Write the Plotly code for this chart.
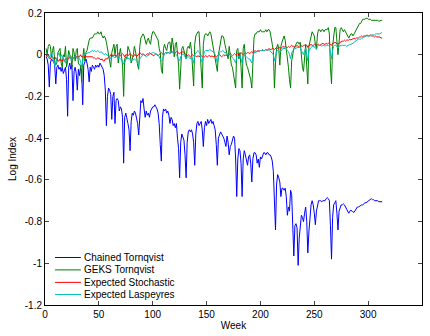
import plotly.graph_objects as go

series_names = ["Chained Tornqvist", "GEKS Tornqvist", "Expected Stochastic", "Expected Laspeyres"]
series_colors = ["#0000ff", "#008000", "#ff0000", "#00bfbf"]

chained_tornqvist = [
    -0.01, -0.02, -0.05, -0.155, -0.04, -0.02, -0.03, -0.03, -0.05, -0.14,
    -0.06, -0.05, -0.07, -0.06, -0.08, -0.06, -0.09, -0.07, -0.06, -0.12,
    -0.295, -0.06, -0.04, -0.07, -0.05, -0.22, -0.08, -0.06, -0.09, -0.17,
    -0.07, -0.10, -0.06, -0.08, -0.24, -0.05, -0.03, -0.02, -0.04, -0.07,
    -0.13, -0.06, -0.08, -0.05, -0.06, -0.07, -0.05, -0.06, -0.05, -0.06,
    -0.04, -0.05, -0.06, -0.07, -0.10, -0.17, -0.34, -0.20, -0.16, -0.17,
    -0.19, -0.31, -0.20, -0.18, -0.33, -0.22, -0.21, -0.22, -0.27, -0.25,
    -0.26, -0.30, -0.52, -0.30, -0.28, -0.30, -0.33, -0.36, -0.46, -0.32,
    -0.28, -0.29, -0.27, -0.28, -0.30, -0.33, -0.385, -0.26, -0.22, -0.23,
    -0.21, -0.26, -0.30, -0.27, -0.29, -0.28, -0.30, -0.27, -0.26, -0.25,
    -0.25, -0.24, -0.25, -0.26, -0.28, -0.33, -0.43, -0.51, -0.30, -0.26,
    -0.27, -0.26, -0.28, -0.27, -0.29, -0.33, -0.30, -0.31, -0.34, -0.33,
    -0.35, -0.33, -0.40, -0.45, -0.59, -0.42, -0.38, -0.40, -0.41, -0.48,
    -0.59, -0.42, -0.37, -0.36, -0.37, -0.36, -0.38, -0.42, -0.53, -0.38,
    -0.33, -0.32, -0.34, -0.33, -0.32, -0.36, -0.44, -0.35, -0.32, -0.34,
    -0.31, -0.33, -0.32, -0.31, -0.33, -0.32, -0.34, -0.36, -0.43, -0.53,
    -0.40, -0.38, -0.37, -0.38, -0.39, -0.40, -0.42, -0.44, -0.39, -0.42,
    -0.48, -0.44, -0.43, -0.41, -0.39, -0.40, -0.50, -0.68, -0.50, -0.45,
    -0.46, -0.52, -0.68, -0.50, -0.46, -0.48, -0.51, -0.53, -0.49, -0.48,
    -0.52, -0.61, -0.50, -0.47, -0.47, -0.48, -0.52, -0.50, -0.54, -0.49,
    -0.50, -0.48, -0.47, -0.47, -0.48, -0.47, -0.47, -0.48, -0.48, -0.49,
    -0.51, -0.56, -0.70, -0.84, -0.62, -0.575, -0.59, -0.61, -0.68, -0.64,
    -0.64, -0.65, -0.64, -0.68, -0.77, -0.73, -0.75, -0.65, -0.67, -0.80,
    -0.965, -0.82, -0.81, -0.83, -1.01, -0.88, -0.80, -0.77, -0.78, -0.80,
    -0.76, -0.73, -0.80, -0.95, -0.85, -0.77, -0.72, -0.70, -0.72, -0.76,
    -0.815, -0.75, -0.72, -0.70, -0.70, -0.70, -0.705, -0.70, -0.70, -0.70,
    -0.69, -0.685, -0.69, -0.70, -0.82, -0.98, -0.78, -0.72, -0.71, -0.70,
    -0.76, -0.84, -0.75, -0.73, -0.72, -0.72, -0.715, -0.72, -0.73, -0.745,
    -0.755, -0.76, -0.75, -0.745, -0.75, -0.755, -0.755, -0.745, -0.735, -0.73,
    -0.73, -0.725, -0.725, -0.72, -0.72, -0.715, -0.71, -0.71, -0.705, -0.70,
    -0.695, -0.69, -0.69, -0.695, -0.695, -0.70, -0.70, -0.70, -0.70, -0.705,
    -0.705, -0.705, -0.705,
]

geks_tornqvist = [
    0.03, 0.00, 0.04, 0.05, 0.04, -0.01, 0.02, 0.04, -0.03, -0.05,
    -0.04, 0.01, 0.02, 0.03, -0.04, -0.06, 0.00, -0.01, 0.04, -0.06,
    -0.03, 0.02, 0.00, -0.01, -0.06, 0.03, 0.01, -0.03, 0.02, 0.03,
    -0.04, -0.05, -0.05, -0.13, -0.02, 0.03, -0.03, 0.01, 0.02, 0.05,
    0.07, 0.08, 0.08, 0.08, 0.09, 0.10, 0.10, 0.10, 0.11, 0.10,
    0.10, 0.11, 0.09, 0.08, 0.09, 0.08, 0.06, 0.03, 0.00, -0.03,
    -0.06, 0.01, 0.04, 0.05, 0.00, 0.04, 0.05, -0.04, 0.00, 0.03,
    -0.01, -0.05, -0.20, -0.02, -0.01, -0.02, 0.04, 0.02, 0.01, -0.04,
    -0.02, 0.00, 0.04, 0.02, -0.01, -0.05, -0.07, 0.04, 0.08, 0.09,
    0.10, 0.09, 0.07, 0.05, 0.07, 0.08, 0.06, 0.05, 0.09, 0.11,
    0.11, 0.10, 0.09, 0.08, 0.07, 0.03, 0.01, -0.07, -0.09, 0.03,
    0.05, 0.03, 0.02, 0.05, 0.06, 0.06, 0.01, 0.08, 0.05, -0.01,
    0.05, 0.06, 0.01, -0.05, -0.165, -0.03, 0.03, 0.04, 0.02, 0.01,
    -0.02, 0.03, 0.04, 0.03, 0.06, 0.02, -0.05, -0.15, 0.05, 0.09,
    0.10, 0.11, 0.11, 0.01, -0.12, -0.16, 0.05, 0.09, 0.10, 0.10,
    0.09, 0.10, 0.11, 0.10, 0.07, 0.04, 0.02, -0.01, -0.05, -0.08,
    0.00, 0.03, 0.07, 0.09, 0.09, 0.08, 0.05, 0.03, 0.00, -0.02,
    0.04, -0.02, -0.05, -0.06, -0.10, -0.13, -0.16, 0.02, 0.03, -0.02,
    0.01, -0.06, -0.16, 0.03, 0.05, -0.01, -0.05, -0.06, -0.08, -0.10,
    -0.12, -0.16, -0.01, 0.08, 0.10, 0.10, 0.11, 0.11, 0.11, 0.12,
    0.11, 0.11, 0.11, 0.11, 0.12, 0.11, 0.12, 0.12, 0.11, 0.07,
    0.05, 0.02, -0.16, -0.04, 0.03, 0.05, 0.03, -0.05, 0.04, 0.06,
    0.08, 0.09, 0.07, 0.03, -0.02, -0.06, -0.12, -0.16, -0.03, 0.01,
    0.03, 0.04, 0.05, 0.06, 0.06, 0.05, 0.06, -0.03, -0.06, -0.08,
    0.00, 0.05, -0.06, -0.14, 0.04, 0.07, 0.10, 0.11, 0.10, 0.09,
    0.05, 0.03, 0.10, 0.12, 0.12, 0.11, 0.12, 0.12, 0.11, 0.12,
    0.12, 0.12, 0.13, 0.10, -0.06, -0.14, 0.04, 0.10, 0.13, 0.13,
    0.08, 0.00, 0.06, 0.12, 0.13, 0.12, 0.11, 0.12, 0.11, 0.10,
    0.09, 0.08, 0.09, 0.10, 0.10, 0.09, 0.10, 0.11, 0.12, 0.13,
    0.14, 0.15, 0.15, 0.16, 0.17, 0.17, 0.17, 0.175, 0.175, 0.17,
    0.17, 0.17, 0.165, 0.165, 0.165, 0.165, 0.165, 0.165, 0.165, 0.16,
    0.165, 0.165, 0.165,
]

expected_stochastic = [
    0.00, -0.01, 0.00, -0.01, -0.02, -0.01, -0.01, -0.02, -0.01, -0.02,
    -0.02, -0.03, -0.03, -0.02, -0.03, -0.03, -0.02, -0.03, -0.02, -0.02,
    -0.02, -0.02, -0.01, -0.02, -0.01, -0.02, -0.01, -0.01, -0.01, -0.01,
    -0.01, -0.01, 0.00, -0.01, -0.01, -0.01, -0.01, -0.01, -0.01, -0.01,
    -0.01, -0.01, -0.01, -0.01, -0.015, -0.015, -0.02, -0.02, -0.015, -0.02,
    -0.02, -0.025, -0.02, -0.03, -0.03, -0.02, -0.02, -0.02, -0.01, -0.01,
    0.00, -0.01, 0.00, -0.005, 0.00, -0.01, 0.00, 0.005, 0.00, -0.005,
    0.00, 0.005, 0.00, -0.01, 0.00, 0.00, -0.005, 0.00, 0.005, 0.00,
    -0.005, -0.01, 0.00, 0.00, -0.01, -0.005, 0.00, 0.01, 0.005, 0.00,
    0.005, 0.00, -0.005, 0.00, 0.005, 0.00, 0.01, 0.005, 0.00, 0.00,
    -0.005, 0.00, 0.005, 0.00, -0.005, 0.00, 0.005, 0.01, 0.005, 0.00,
    0.005, 0.01, 0.005, 0.01, 0.01, 0.005, 0.01, 0.015, 0.01, 0.01,
    0.01, 0.015, 0.01, 0.01, 0.005, 0.01, 0.01, 0.015, 0.01, 0.005,
    0.00, -0.005, 0.00, -0.005, -0.01, -0.005, 0.00, -0.005, -0.01, -0.005,
    -0.01, -0.005, -0.01, -0.01, -0.005, -0.01, -0.005, -0.01, -0.005, -0.01,
    -0.01, -0.005, -0.005, -0.01, -0.005, -0.01, -0.01, -0.005, -0.01, -0.005,
    -0.005, 0.00, -0.005, -0.01, -0.005, 0.00, -0.005, 0.00, -0.005, 0.00,
    0.00, 0.005, 0.00, -0.005, 0.00, 0.005, 0.00, 0.005, 0.005, 0.00,
    0.005, 0.01, 0.005, 0.00, 0.005, 0.01, 0.005, 0.01, 0.01, 0.005,
    0.01, 0.015, 0.01, 0.015, 0.02, 0.015, 0.02, 0.02, 0.015, 0.02,
    0.02, 0.025, 0.02, 0.02, 0.025, 0.02, 0.025, 0.03, 0.025, 0.025,
    0.03, 0.03, 0.025, 0.03, 0.035, 0.03, 0.03, 0.035, 0.03, 0.035,
    0.04, 0.035, 0.04, 0.035, 0.035, 0.04, 0.035, 0.04, 0.045, 0.04,
    0.04, 0.035, 0.04, 0.045, 0.04, 0.04, 0.045, 0.04, 0.04, 0.045,
    0.045, 0.04, 0.045, 0.035, 0.045, 0.045, 0.05, 0.045, 0.045, 0.05,
    0.05, 0.045, 0.05, 0.05, 0.045, 0.05, 0.05, 0.055, 0.05, 0.05,
    0.055, 0.05, 0.055, 0.055, 0.05, 0.045, 0.055, 0.055, 0.06, 0.055,
    0.055, 0.05, 0.055, 0.06, 0.06, 0.065, 0.065, 0.07, 0.065, 0.07,
    0.07, 0.07, 0.075, 0.07, 0.075, 0.075, 0.08, 0.075, 0.08, 0.08,
    0.08, 0.085, 0.085, 0.09, 0.085, 0.09, 0.09, 0.09, 0.095, 0.09,
    0.09, 0.095, 0.09, 0.09, 0.09, 0.085, 0.09, 0.085, 0.085, 0.085,
    0.085, 0.08, 0.08,
]

expected_laspeyres = [
    0.01, 0.00, -0.01, -0.02, 0.00, 0.01, -0.01, -0.03, -0.05, -0.04,
    -0.01, 0.00, 0.01, -0.01, 0.00, -0.01, -0.02, -0.03, -0.04, -0.02,
    -0.01, 0.00, -0.01, -0.02, -0.01, -0.02, -0.01, -0.01, -0.01, -0.02,
    -0.01, -0.02, -0.03, -0.06, -0.02, 0.00, 0.00, 0.005, 0.01, 0.01,
    0.01, 0.015, 0.015, 0.02, 0.015, 0.02, 0.015, 0.015, 0.02, 0.015,
    0.01, 0.015, 0.01, 0.005, 0.00, 0.005, 0.00, -0.005, -0.01, -0.01,
    -0.02, -0.01, -0.005, -0.01, -0.015, -0.01, -0.01, -0.02, -0.015, -0.02,
    -0.02, -0.03, -0.045, -0.04, -0.02, -0.02, -0.015, -0.02, -0.02, -0.03,
    -0.025, -0.02, -0.02, -0.025, -0.03, -0.04, -0.05, -0.02, -0.01, -0.005,
    0.00, 0.00, -0.005, -0.01, -0.005, 0.00, 0.00, 0.005, 0.01, 0.01,
    0.01, 0.005, 0.005, 0.00, 0.00, -0.01, -0.02, -0.03, -0.025, -0.005,
    0.005, 0.01, 0.01, 0.01, 0.01, 0.015, 0.01, 0.01, 0.01, 0.01,
    0.005, 0.00, -0.01, -0.02, -0.03, -0.01, 0.00, 0.005, 0.00, -0.01,
    -0.02, -0.01, -0.01, -0.015, -0.02, -0.01, -0.03, -0.04, 0.00, 0.01,
    0.015, 0.02, 0.015, 0.00, -0.03, -0.035, 0.00, 0.015, 0.02, 0.02,
    0.02, 0.02, 0.025, 0.02, 0.02, 0.015, 0.01, 0.00, -0.02, -0.04,
    -0.01, 0.01, 0.015, 0.015, 0.02, 0.015, 0.01, 0.01, 0.00, 0.00,
    0.005, 0.00, -0.01, -0.015, -0.02, -0.03, -0.04, -0.01, -0.005, -0.01,
    -0.005, -0.02, -0.04, -0.005, 0.00, -0.01, -0.01, -0.015, -0.02, -0.02,
    -0.03, -0.04, -0.01, 0.01, 0.01, 0.015, 0.015, 0.015, 0.02, 0.02,
    0.02, 0.02, 0.02, 0.02, 0.025, 0.02, 0.02, 0.025, 0.02, 0.015,
    0.01, 0.00, -0.03, -0.01, 0.015, 0.02, 0.02, 0.01, 0.02, 0.025,
    0.03, 0.03, 0.03, 0.025, 0.02, 0.015, 0.00, -0.02, 0.01, 0.02,
    0.025, 0.03, 0.03, 0.035, 0.035, 0.035, 0.035, 0.02, 0.01, 0.00,
    0.02, 0.03, 0.00, -0.03, 0.02, 0.03, 0.035, 0.04, 0.04, 0.04,
    0.03, 0.025, 0.04, 0.045, 0.045, 0.045, 0.04, 0.045, 0.045, 0.04,
    0.045, 0.045, 0.045, 0.04, 0.00, -0.02, 0.02, 0.04, 0.045, 0.045,
    0.04, 0.03, 0.04, 0.045, 0.045, 0.045, 0.045, 0.045, 0.045, 0.04,
    0.045, 0.045, 0.05, 0.05, 0.055, 0.055, 0.06, 0.065, 0.07, 0.07,
    0.075, 0.075, 0.075, 0.08, 0.08, 0.085, 0.085, 0.09, 0.09, 0.09,
    0.09, 0.09, 0.095, 0.095, 0.095, 0.095, 0.10, 0.10, 0.10, 0.10,
    0.10, 0.105, 0.105,
]

x_ticks = [0, 50, 100, 150, 200, 250, 300, 350]
y_ticks = [0.2, 0, -0.2, -0.4, -0.6, -0.8, -1, -1.2]
y_tick_labels = ["0.2", "0", "-0.2", "-0.4", "-0.6", "-0.8", "-1", "-1.2"]

all_series = [chained_tornqvist, geks_tornqvist, expected_stochastic, expected_laspeyres]

FONT = "Liberation Sans, Arial, sans-serif"

fig = go.Figure()
for name, color, values in zip(series_names, series_colors, all_series):
    fig.add_trace(go.Scatter(
        x=list(range(1, len(values) + 1)), y=values, mode="lines", name=name,
        line=dict(color=color, width=1), showlegend=False,
    ))

# Manual MATLAB-style legend (lower left inside the axes)
L, R, T, B = 45, 423, 8, 305
W, H = R - L, B - T
rows_py = [256.7, 269.3, 282.0, 294.3]
shapes = []
annotations = []
for name, color, py in zip(series_names, series_colors, rows_py):
    yp = (B - py) / H
    shapes.append(dict(type="line", xref="paper", yref="paper",
                       x0=(55 - L) / W, x1=(81 - L) / W, y0=yp, y1=yp,
                       line=dict(color=color, width=1)))
    annotations.append(dict(xref="paper", yref="paper", x=(82 - L) / W, y=yp,
                            xanchor="left", yanchor="middle", text=name, showarrow=False,
                            font=dict(family=FONT, size=10, color="black")))

fig.update_layout(
    width=430, height=336,
    margin=dict(l=L, r=430 - R, t=T, b=336 - B),
    paper_bgcolor="white", plot_bgcolor="white",
    font=dict(family=FONT, size=10, color="black"),
    shapes=shapes, annotations=annotations,
    xaxis=dict(range=[0, 350], tickvals=x_ticks, ticks="inside", ticklen=4,
               showline=True, linecolor="black", linewidth=1, mirror="allticks",
               showgrid=False, zeroline=False, tickfont=dict(size=10),
               title=dict(text="Week", font=dict(size=10), standoff=2)),
    yaxis=dict(range=[-1.2, 0.2], tickvals=y_ticks, ticktext=y_tick_labels,
               ticks="inside", ticklen=4,
               showline=True, linecolor="black", linewidth=1, mirror="allticks",
               showgrid=False, zeroline=False, tickfont=dict(size=10),
               title=dict(text="Log Index", font=dict(size=10), standoff=6)),
)

fig.write_html("out.html")
